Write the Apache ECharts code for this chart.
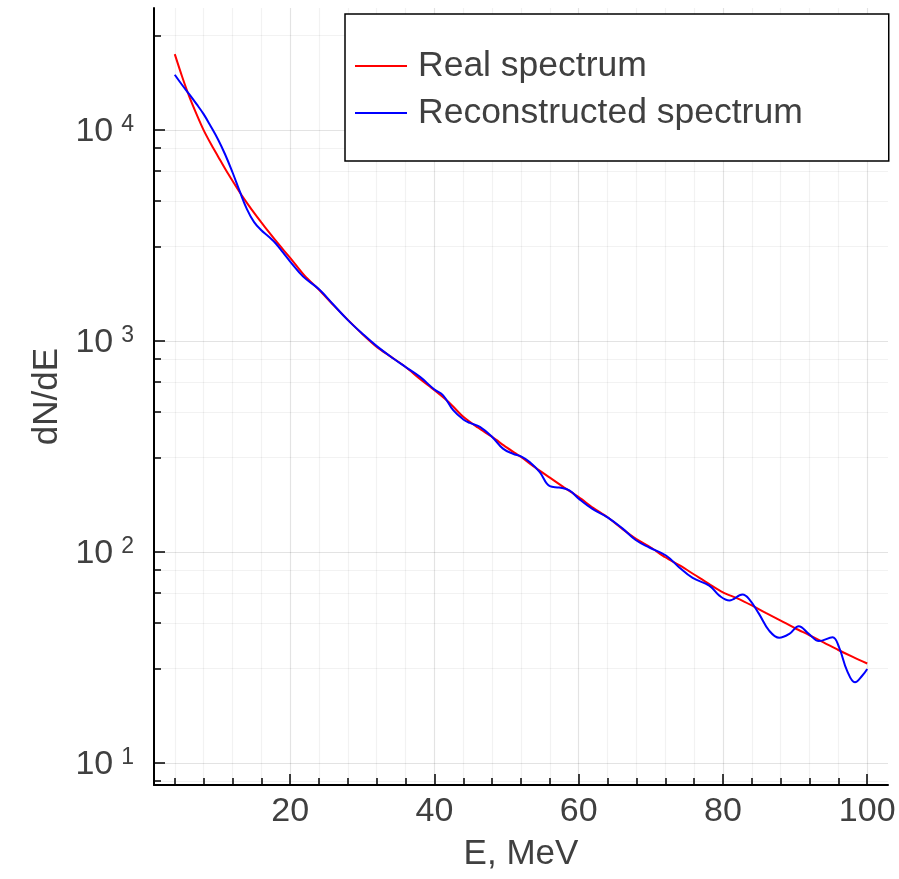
<!DOCTYPE html>
<html>
<head>
<meta charset="utf-8">
<script src="https://cdn.jsdelivr.net/npm/echarts@6/dist/echarts.min.js"></script>
<style>
html,body{margin:0;padding:0;background:#fff;}
#chart{width:899px;height:879px;}
</style>
</head>
<body>
<div id="chart"></div>
<script>
// ---- data ----
const seriesNames = ['Real spectrum', 'Reconstructed spectrum'];

const realE = [4,5,6,7,8,9,10,11,12,13,14,15,16,17,18,19,20,22,24,26,28,30,32,34,36,38,40,42,44,46,48,50,52,54,56,58,60,62,64,66,68,70,72,74,76,78,80,82,84,86,88,90,92,94,96,98,100];
const realValues = [22900,18000,14450,11940,10000,8610,7500,6530,5750,5070,4520,4050,3650,3300,2990,2720,2480,2040,1750,1480,1260,1080,938,841,753,661,585,513,437,389,351,313,282,251,225,202,182,162,146,129,115,105,94.4,86.3,78.2,70.8,64.4,60.3,55.8,51.3,47.3,43.5,40.3,37.2,34.3,31.8,29.6];

const recoE = [4,5,6,7,8,9,10,11,12,13,14,15,16,17,18,19,20,21.8,24,26,28,30,32,34.3,36,38,40,41.2,42.6,44,44.9,46.3,48,49.5,50.9,52,53.2,54.6,56,57.3,58.7,60,61.9,64,66.1,67.9,69.8,72.1,73.9,75.8,78.1,79.5,80.9,82.7,83.6,85,86.4,87.8,89.2,90.5,91.9,93.3,95.2,96.1,97.2,98.3,99.3,100];
const recoValues = [18300,16400,14800,13300,11900,10400,9020,7640,6310,5130,4220,3660,3350,3130,2900,2630,2380,2020,1760,1486,1256,1084,946,826,753,676,589,553,470,425,409,392,351,309,292,284,267,239,205,202,196,179,160,146,129,114,105,96.2,84.7,75.3,69.3,62.1,58.9,62.8,60.0,50.9,42.4,39.2,40.9,44.5,40.9,37.8,39.4,35.3,27.4,24.1,25.9,27.9];

const xMajorTicks = [20,40,60,80,100];
const xMinorTicks = [4,8,12,16,24,28,32,36,44,48,52,56,64,68,72,76,84,88,92,96];
const yMajorTicks = [10,100,1000,10000];
const yMajorExponents = ['1','2','3','4'];
const yMinorTicks = [8.2,28,46,64,82,280,460,640,820,2800,4600,6400,8200,28000];

const xRange = [1.12, 102.88];
const yRange = [7.86, 37900];

// ---- chart ----
const textColor = '#404040';
const chart = echarts.init(document.getElementById('chart'), null, {renderer:'canvas'});

function zip(xs, ys){ return xs.map((x,i)=>[x, ys[i]]); }

const majorGrid = {show:true, lineStyle:{color:'rgba(0,0,0,0.11)', width:1.2}};
const minorGrid = {show:true, lineStyle:{color:'rgba(0,0,0,0.05)', width:1.2}};

const option = {
  backgroundColor:'#fff',
  animation:false,
  textStyle:{fontFamily:'Liberation Sans, Arial, sans-serif'},
  grid:{left:154, right:11, top:8, bottom:94, containLabel:false},
  legend:{
    data:seriesNames,
    orient:'vertical',
    left:345, top:14,
    icon:'rect',
    itemWidth:52, itemHeight:2, itemGap:11,
    padding:[34,86,30,10],
    backgroundColor:'#fff',
    borderColor:'#000', borderWidth:1.5, borderRadius:0,
    textStyle:{fontSize:35.5, color:textColor, lineHeight:36, padding:[0,0,0,6], fontFamily:'Liberation Sans, Arial, sans-serif'}
  },
  xAxis:[
    {
      type:'value', min:xRange[0], max:xRange[1], position:'bottom',
      name:'E, MeV', nameLocation:'middle', nameGap:52,
      nameTextStyle:{fontSize:35, color:textColor},
      axisLine:{show:true, onZero:false, lineStyle:{color:'#000', width:2}},
      axisTick:{show:true, inside:true, length:11, customValues:xMajorTicks, lineStyle:{color:'#000', width:1.5}},
      axisLabel:{show:true, customValues:xMajorTicks, fontSize:34, color:textColor, margin:10},
      splitLine:majorGrid
    },
    {
      type:'value', min:xRange[0], max:xRange[1], position:'bottom',
      axisLine:{show:false},
      axisTick:{show:true, inside:true, length:7, customValues:xMinorTicks, lineStyle:{color:'#000', width:1.5}},
      axisLabel:{show:false},
      splitLine:minorGrid
    }
  ],
  yAxis:[
    {
      type:'log', logBase:10, min:yRange[0], max:yRange[1], position:'left',
      name:'dN/dE', nameLocation:'middle', nameGap:87,
      nameTextStyle:{fontSize:35, color:textColor},
      axisLine:{show:true, onZero:false, lineStyle:{color:'#000', width:2}},
      axisTick:{show:true, inside:true, length:11, customValues:yMajorTicks, lineStyle:{color:'#000', width:1.5}},
      axisLabel:{
        show:true, customValues:yMajorTicks, margin:20,
        formatter:function(v){
          const i = yMajorTicks.findIndex(t => Math.abs(t - v) / t < 1e-6);
          return '{b|10}{e|' + (i >= 0 ? yMajorExponents[i] : '') + '}';
        },
        rich:{
          b:{fontSize:34, color:textColor, lineHeight:38, padding:[12,0,0,0], verticalAlign:'bottom'},
          e:{fontSize:23, color:textColor, lineHeight:23, padding:[2,0,0,8], verticalAlign:'top'}
        }
      },
      splitLine:majorGrid
    },
    {
      type:'log', logBase:10, min:yRange[0], max:yRange[1], position:'left',
      axisLine:{show:false},
      axisTick:{show:true, inside:true, length:7, customValues:yMinorTicks, lineStyle:{color:'#000', width:1.5}},
      axisLabel:{show:false},
      splitLine:minorGrid
    }
  ],
  series:[
    {
      name:seriesNames[0], type:'line', xAxisIndex:0, yAxisIndex:0,
      data:zip(realE, realValues), symbol:'none', smooth:0.3,
      lineStyle:{color:'#ff0000', width:2}, itemStyle:{color:'#ff0000'}, z:3
    },
    {
      name:seriesNames[1], type:'line', xAxisIndex:0, yAxisIndex:0,
      data:zip(recoE, recoValues), symbol:'none', smooth:0.4,
      lineStyle:{color:'#0000ff', width:2}, itemStyle:{color:'#0000ff'}, z:4
    }
  ]
};
chart.setOption(option);
</script>
</body>
</html>
